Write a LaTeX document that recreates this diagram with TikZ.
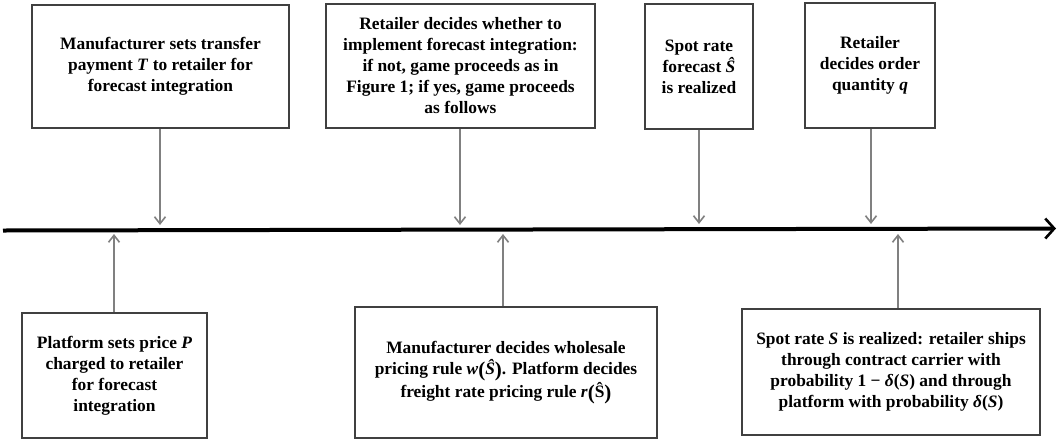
\documentclass[tikz,border=0pt]{standalone}
\usepackage{fontspec}
\setmainfont{Liberation Serif}
\usetikzlibrary{arrows.meta}
\newcommand\bpar[1]{\raisebox{-2pt}{\fontsize{21}{21}\selectfont(}#1\raisebox{-2pt}{\fontsize{21}{21}\selectfont)}}
\begin{document}
\begin{tikzpicture}[x=1pt,y=-1pt,
  box/.style={draw=black!75, line width=2.2pt, align=center, inner sep=0pt,
    font=\fontsize{17.4}{21}\selectfont\bfseries},
  tick/.style={draw=black!50, line width=2pt, -{Straight Barb[length=7pt,width=11pt,line width=1.6pt]}},
  axis/.style={draw=black, line width=4pt, -{Straight Barb[length=9pt,width=20pt,line width=2.6pt]}}]
\useasboundingbox (0,0) rectangle (1058,440);
% top boxes
\node[box, minimum width=257pt, minimum height=123pt] (b1) at (160.5,66.5)
  {\baselineskip=22pt Manufacturer sets transfer\\payment \textit{T} to retailer for\\forecast integration};
\node[box, minimum width=269pt, minimum height=124pt] (b2) at (460.5,66)
  {\baselineskip=20.5pt Retailer decides whether to\\implement forecast integration:\\if not, game proceeds as in\\Figure 1; if yes, game proceeds\\as follows};
\node[box, minimum width=108pt, minimum height=125pt] (b3) at (699,66.5)
  {\baselineskip=20pt Spot rate\\forecast \textit{Ŝ}\\is realized};
\node[box, minimum width=130pt, minimum height=125pt] (b4) at (870,65.5)
  {\baselineskip=20pt Retailer\\decides order\\quantity \textit{q}};
% bottom boxes
\node[box, minimum width=185pt, minimum height=125pt] (b5) at (114.5,375.5)
  {Platform sets price \textit{P}\\charged to retailer\\for forecast\\integration};
\node[box, minimum width=302pt, minimum height=131pt] (b6) at (506,372.5)
  {\baselineskip=22pt Manufacturer decides wholesale\\pricing rule \textit{w}\bpar{\textit{Ŝ}}. Platform decides\\freight rate pricing rule \textit{r}\bpar{Ŝ}};
\node[box, minimum width=298pt, minimum height=126pt] (b7) at (891,372)
  {\baselineskip=20.7pt Spot rate \textit{S} is realized: retailer ships\\through contract carrier with\\probability 1 − \textit{δ}(\textit{S}) and through\\platform with probability \textit{δ}(\textit{S})};
% timeline
\coordinate (tl0) at (3,230.5);
\coordinate (tl1) at (1056,228.5);
\draw[axis] (tl0) -- (tl1);
% tick coordinates
\coordinate (d1) at (160,225);
\coordinate (d2) at (460,225);
\coordinate (d3) at (699,224);
\coordinate (d4) at (871,224);
\coordinate (u1) at (114,234);
\coordinate (u2) at (503,234);
\coordinate (u3) at (898,234);
\draw[tick] (b1.south -| d1) -- (d1);
\draw[tick] (b2.south -| d2) -- (d2);
\draw[tick] (b3.south -| d3) -- (d3);
\draw[tick] (b4.south -| d4) -- (d4);
\draw[tick] (b5.north -| u1) -- (u1);
\draw[tick] (b6.north -| u2) -- (u2);
\draw[tick] (b7.north -| u3) -- (u3);
\end{tikzpicture}
\end{document}
